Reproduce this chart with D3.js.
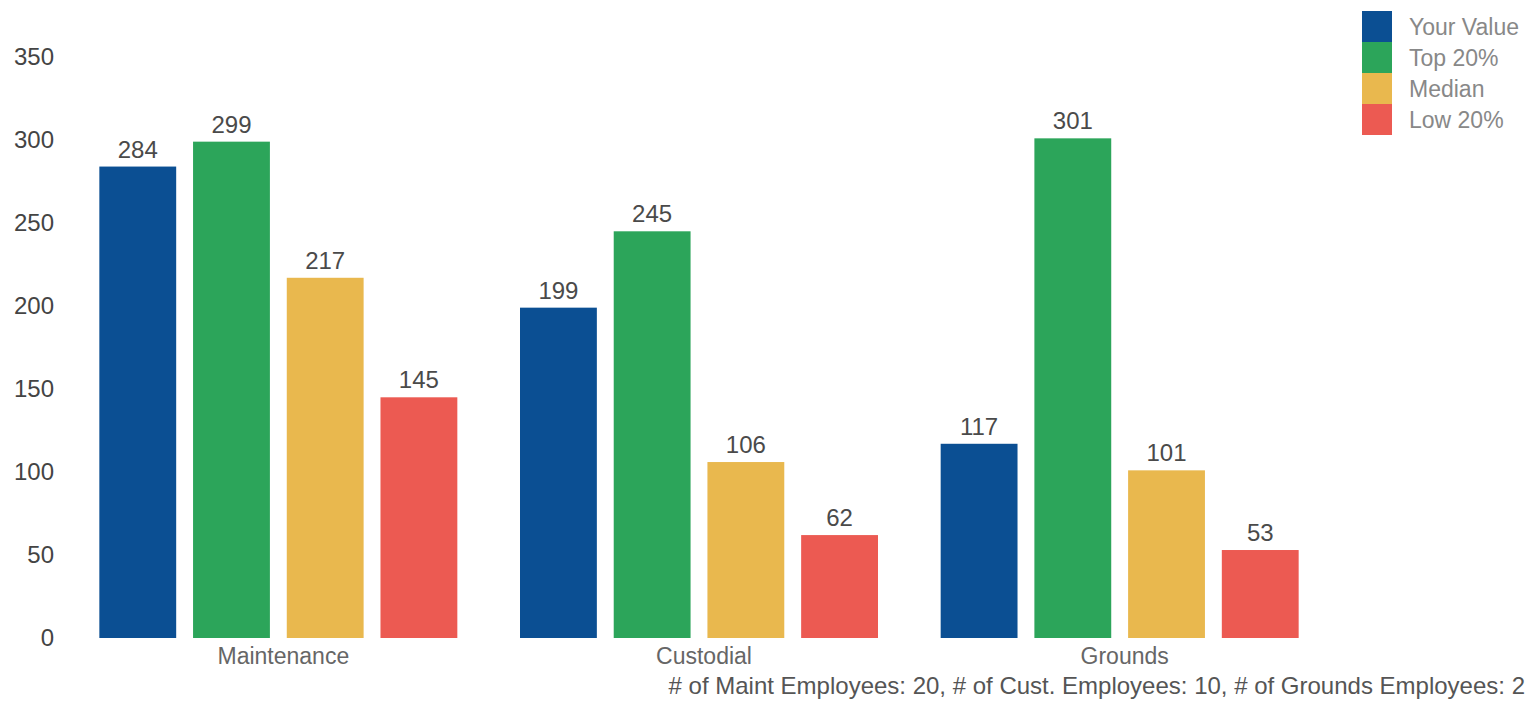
<!DOCTYPE html>
<html><head><meta charset="utf-8">
<script src="https://cdn.jsdelivr.net/npm/d3@7"></script>
<style>body{margin:0;background:#fff;} svg{display:block;font-family:"Liberation Sans",Arial,sans-serif;}</style>
</head><body>
<svg id="c" width="1534" height="701"></svg>
<script>
const categories = ["Maintenance", "Custodial", "Grounds"];
const seriesNames = ["Your Value", "Top 20%", "Median", "Low 20%"];
const seriesColors = ["#0b4f93", "#2ca55a", "#e9b84e", "#ec5a52"];
const yourValue = [284, 199, 117];
const top20 = [299, 245, 301];
const median = [217, 106, 101];
const low20 = [145, 62, 53];
const yTicks = [0, 50, 100, 150, 200, 250, 300, 350];
const footnote = "# of Maint Employees: 20, # of Cust. Employees: 10, # of Grounds Employees: 2";

const seriesValues = [yourValue, top20, median, low20];
const svg = d3.select("#c");
const FF = "Liberation Sans, Arial, sans-serif";

const y = d3.scaleLinear().domain([0, 350]).range([638, 57]);
const x0 = d3.scaleBand().domain(categories).range([68, 1330]).paddingInner(0.149).paddingOuter(0.0745);
const x1 = d3.scaleBand().domain(seriesNames).range([0, x0.bandwidth()]).paddingInner(0.18).paddingOuter(0);

// y axis
const yAxis = svg.append("g").attr("transform", "translate(61,0)")
  .call(d3.axisLeft(y).tickValues(yTicks).tickSize(0).tickPadding(7));
yAxis.select(".domain").remove();
yAxis.selectAll("text").attr("font-size", 24).attr("fill", "#444").attr("font-family", FF);

// bars
const groups = svg.append("g").selectAll("g").data(categories).join("g")
  .attr("transform", d => `translate(${x0(d)},0)`);
groups.each(function(cat, ci) {
  const g = d3.select(this);
  const data = seriesNames.map((s, si) => ({s, si, v: seriesValues[si][ci]}));
  g.selectAll("rect").data(data).join("rect")
    .attr("x", d => x1(d.s)).attr("width", x1.bandwidth())
    .attr("y", d => y(d.v)).attr("height", d => y(0) - y(d.v))
    .attr("fill", d => seriesColors[d.si]);
  g.selectAll("text").data(data).join("text")
    .attr("x", d => x1(d.s) + x1.bandwidth() / 2)
    .attr("y", d => y(d.v) - 9)
    .attr("text-anchor", "middle").attr("font-size", 24).attr("fill", "#4a4a4a")
    .text(d => d.v);
});

// x axis labels
const xAxis = svg.append("g").attr("transform", `translate(5,${y(0)})`)
  .call(d3.axisBottom(x0).tickSize(0).tickPadding(9));
xAxis.select(".domain").remove();
xAxis.selectAll("text").attr("font-size", 23).attr("fill", "#666").attr("font-family", FF)
  .attr("dy", "0.72em");

// footnote
svg.append("text").attr("x", 1525).attr("y", 694).attr("text-anchor", "end")
  .attr("font-size", 24).attr("fill", "#555").text(footnote);

// legend
const leg = svg.append("g").attr("transform", "translate(1362,11)");
seriesNames.forEach((s, i) => {
  leg.append("rect").attr("x", 0).attr("y", i * 31).attr("width", 30).attr("height", 31).attr("fill", seriesColors[i]);
  leg.append("text").attr("x", 47).attr("y", i * 31 + 24).attr("font-size", 23).attr("fill", "#888").text(s);
});
</script>
</body></html>
